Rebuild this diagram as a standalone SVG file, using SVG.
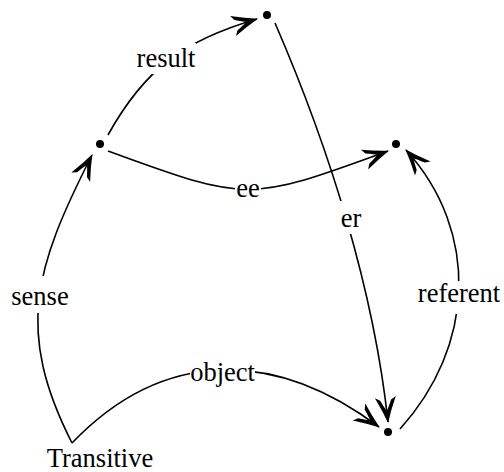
<svg xmlns="http://www.w3.org/2000/svg" width="504" height="472" viewBox="0 0 504 472">
  <style>
    .edge { fill: none; stroke: #000; stroke-width: 1.6; marker-end: url(#arrow); }
    .bg { fill: #fff; stroke: none; }
    .lbl { font-family: 'Liberation Serif', 'Times New Roman', Times, serif; font-size: 26.5px; fill: #000; text-anchor: middle; }
    .dot { fill: #000; }
  </style>
  <defs>
    <marker id="arrow" markerUnits="userSpaceOnUse" viewBox="-30 -15 34 30" markerWidth="34" markerHeight="30" refX="0" refY="0" orient="auto" overflow="visible">
      <path d="M1,0 Q-11,-4 -25,-10.5 L-22,-5.5 Q-14,-1.8 -11,0 Q-14,1.8 -22,5.5 L-25,10.5 Q-11,4 1,0 Z" fill="#000"/>
    </marker>
  </defs>
  <rect width="504" height="472" fill="#fff"/>
  <g id="connectors">
    <path id="e-result" class="edge" d="M108,135 C145,68 185,40 257,19"/>
    <path id="e-ee" class="edge" d="M108,151 C247,202 249,202 388,151"/>
    <path id="e-er" class="edge" d="M275,23 C329.6,149 373.7,289.4 388,422"/>
    <path id="e-referent" class="edge" d="M400,429 C474.4,346.9 480.4,232.1 406,150"/>
    <path id="e-sense" class="edge" d="M72,443 C14.8,330 34.8,268 92,155"/>
    <path id="e-object" class="edge" d="M72,443 C164.7,346.2 276.8,350.4 379,427"/>
  </g>
  <g id="labels" font-family="Liberation Serif, serif">
    <rect class="bg" x="136" y="43" width="60" height="31"/>
    <text class="lbl" x="166" y="67" font-family="Liberation Serif, serif">result</text>
    <rect class="bg" x="235" y="174" width="26" height="30"/>
    <text class="lbl" x="248" y="197" font-family="Liberation Serif, serif">ee</text>
    <rect class="bg" x="340" y="201" width="22" height="33"/>
    <text class="lbl" x="351" y="227" font-family="Liberation Serif, serif">er</text>
    <rect class="bg" x="417" y="281" width="84" height="33"/>
    <text class="lbl" x="459" y="302" font-family="Liberation Serif, serif">referent</text>
    <rect class="bg" x="10" y="276" width="60" height="37"/>
    <text class="lbl" x="40" y="305" font-family="Liberation Serif, serif">sense</text>
    <rect class="bg" x="190" y="357" width="65" height="32"/>
    <text class="lbl" x="222.5" y="381" font-family="Liberation Serif, serif">object</text>
  </g>
  <g id="n-transitive">
    <text class="lbl" x="100" y="467" font-family="Liberation Serif, serif">Transitive</text>
  </g>
  <g id="n-top"><circle class="dot" cx="267" cy="15" r="4"/></g>
  <g id="n-left"><circle class="dot" cx="100" cy="144" r="4"/></g>
  <g id="n-right"><circle class="dot" cx="396" cy="144" r="4"/></g>
  <g id="n-bottom"><circle class="dot" cx="388" cy="432" r="4"/></g>
</svg>
